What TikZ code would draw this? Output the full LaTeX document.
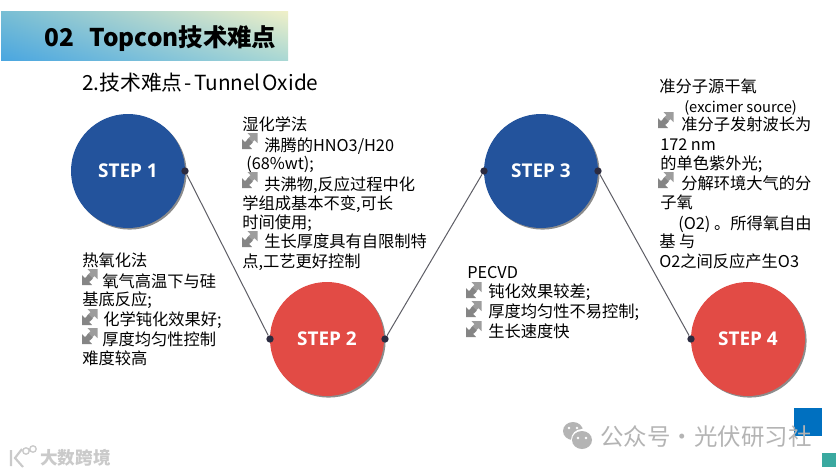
\documentclass[tikz,border=0pt]{standalone}
\usepackage{fontspec}
\setmainfont{Noto Sans CJK SC}
\newfontfamily\stepfont{Open Sans}
\usetikzlibrary{shadows,shadings}
\definecolor{stepblue}{HTML}{23539C}
\definecolor{stepred}{HTML}{E24B45}
\definecolor{iconGray}{HTML}{858585}
\definecolor{dotDark}{HTML}{2B2B40}
\definecolor{lineGray}{HTML}{5E5E66}
\definecolor{markGray}{HTML}{B4B4B4}
\definecolor{bandUL}{RGB}{120,190,212}
\definecolor{bandUR}{RGB}{240,240,200}
\definecolor{bandLL}{RGB}{74,166,224}
\definecolor{bandLR}{RGB}{170,216,212}
\definecolor{cornerBlue}{RGB}{0,112,192}
\definecolor{cornerTeal}{RGB}{58,169,160}
\tikzset{
  stepcircle/.style={circle,minimum size=114*0.75pt,inner sep=0pt,text=white,
    font=\stepfont\fontsize{14.2pt}{15pt}\selectfont\bfseries,
    drop shadow={shadow xshift=1.2pt,shadow yshift=-1.2pt,opacity=.45,fill=black}},
  stepdot/.style={circle,fill=dotDark,minimum size=5.5pt,inner sep=0pt},
  link/.style={draw=lineGray,line width=.75pt},
  txt/.style={anchor=base west,inner sep=0pt,font=\fontsize{12.2pt}{14pt}\selectfont,text=black},
  small/.style={font=\fontsize{11pt}{13pt}\selectfont},
  arrowicon/.pic={
    \fill[iconGray!80] (5.5,0)--(15.5,0)--(15.5,10)--(12.6,7.1)--(9.2,10.5)--(5.2,6.5)--(8.6,3.1)--cycle;
    \fill[iconGray] (0,16)--(0,6)--(3,9)--(6.6,5.4)--(10.8,9.6)--(7.2,13)--(10,16)--cycle;
  }
}
\newcommand{\tl}[5][]{\node[txt,#1] (#2) at (#3,#4+6.4) {#5};}
\begin{document}
\begin{tikzpicture}[x=0.75pt,y=-0.75pt]
\useasboundingbox (0,0) rectangle (840,472);
\fill[white] (0,0) rectangle (840,472);
% title band
\shade[upper left=bandUL,upper right=bandUR,lower left=bandLL,lower right=bandLR]
  (1,11) rectangle (288,60);
\node[anchor=base west,inner sep=0pt,font=\fontsize{18.3pt}{20pt}\selectfont\bfseries] (t02) at (44,46) {02};
\node[anchor=base west,inner sep=0pt,font=\fontsize{18.3pt}{20pt}\selectfont\bfseries] (ttitle) at (89.5,46) {Topcon技术难点};
\node[anchor=base west,inner sep=0pt,font=\fontsize{15.6pt}{18pt}\selectfont] (tsub) at (82,90) {2.技术难点\hspace{1.5pt}-\hspace{1.5pt}Tunnel\hspace{1.5pt}Oxide};
% connectors and circles
\node[stepcircle,fill=stepblue] (s1) at (128,171) {STEP 1};
\node[stepcircle,fill=stepred] (s2) at (327,339) {STEP 2};
\node[stepcircle,fill=stepblue] (s3) at (541,171) {STEP 3};
\node[stepcircle,fill=stepred] (s4) at (748,339) {STEP 4};
\node[stepdot] (d1) at (185,171) {};
\node[stepdot] (d2) at (270,339) {};
\node[stepdot] (d3) at (385,339) {};
\node[stepdot] (d4) at (484,171) {};
\node[stepdot] (d5) at (598,171) {};
\node[stepdot] (d6) at (691,339) {};
\draw[link] (d1)--(d2);
\draw[link] (d3)--(d4);
\draw[link] (d5)--(d6);
% block 1
\tl{a0}{82}{260}{热氧化法}
\pic at (82,269) {arrowicon};
\tl{a1}{102}{281}{氧气高温下与硅}
\tl{a2}{82}{299}{基底反应;}
\pic at (82,309) {arrowicon};
\tl{a3}{103}{319}{化学钝化效果好;}
\pic at (82,328) {arrowicon};
\tl{a4}{102}{339}{厚度均匀性控制}
\tl{a5}{82}{358}{难度较高}
% block 2
\tl{b0}{242}{124}{湿化学法}
\pic at (242,133) {arrowicon};
\tl{b1}{264}{145}{沸腾的HNO3/H20}
\tl{b2}{246}{163}{(68\%wt);}
\pic at (242,172) {arrowicon};
\tl{b3}{264}{184}{共沸物,反应过程中化}
\tl{b4}{242}{203}{学组成基本不变,可长}
\tl{b5}{242}{222}{时间使用;}
\pic at (242,231) {arrowicon};
\tl{b6}{264}{241}{生长厚度具有自限制特}
\tl{b7}{242}{261}{点,工艺更好控制}
% block 3
\tl{c0}{467}{272}{PECVD}
\pic at (466,282) {arrowicon};
\tl{c1}{488}{291}{钝化效果较差;}
\pic at (466,301) {arrowicon};
\tl{c2}{488}{311}{厚度均匀性不易控制;}
\pic at (466,321) {arrowicon};
\tl{c3}{488}{331}{生长速度快}
% block 4
\tl{e0}{659}{86}{准分子源干氧}
\tl[small]{e1}{684}{106}{(excimer source)}
\pic at (658,112) {arrowicon};
\tl{e2}{681}{124}{准分子发射波长为}
\tl{e3}{660}{144}{172 nm}
\tl{e4}{660}{163}{的单色紫外光;}
\pic at (658,172) {arrowicon};
\tl{e5}{681}{183}{分解环境大气的分}
\tl{e6}{660}{202}{子氧}
\tl{e7}{678}{223}{(O2) 。所得氧自由}
\tl{e8}{659}{241}{基 与}
\tl{e9}{659}{261}{O2之间反应产生O3}
% corner squares
\fill[cornerBlue] (794,408) rectangle (822,436);
\fill[cornerTeal] (822,453) rectangle (836,467);
% watermark
\fill[markGray] (573,431) ellipse (10 and 9);
\fill[white] (582,440) circle (11);
\fill[markGray] (582,440) ellipse (10 and 9);
\fill[white] (569,428) circle (1.4) (577,428) circle (1.4) (578,438) circle (1.4) (586,438) circle (1.4);
\node[anchor=base west,inner sep=0pt,text=markGray,font=\fontsize{17.6pt}{20pt}\selectfont] (wm) at (600,445) {公众号·光伏研习社};
\node[anchor=base west,inner sep=0pt,text=markGray!70,font=\fontsize{13.2pt}{15pt}\selectfont\bfseries] (wl) at (40,464) {大数跨境};
\draw[markGray!70,line width=1.6pt] (11,450)--(11,466) (22,449)--(15,458)--(23,467);
\draw[markGray!70,line width=1pt] (26,451) circle (3.2) (33,449) circle (3.2);
\end{tikzpicture}
\end{document}
